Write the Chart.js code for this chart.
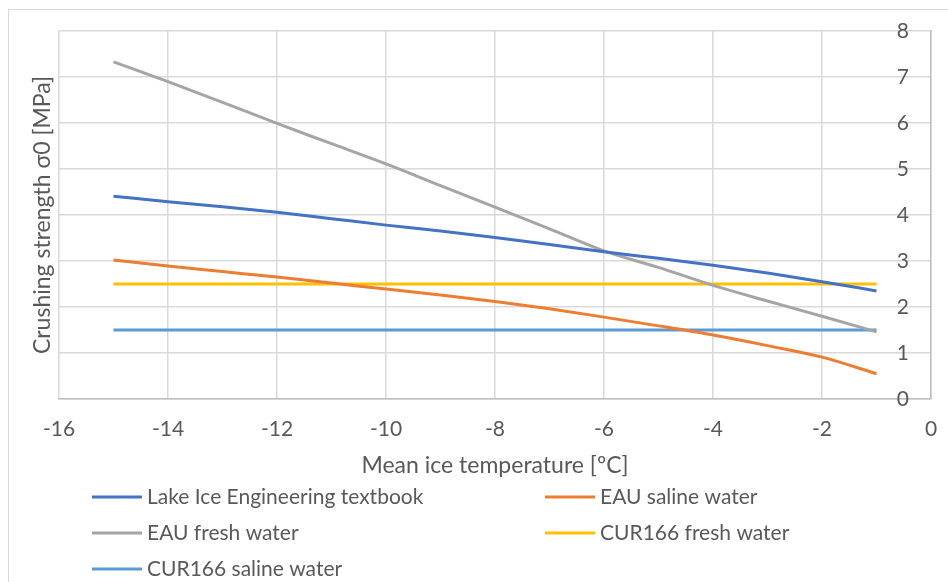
<!DOCTYPE html>
<html>
<head>
<meta charset="utf-8">
<script src="https://cdn.jsdelivr.net/npm/chart.js@4"></script>
<style>
  html, body { margin: 0; padding: 0; background: #fff; }
  #wrap { position: relative; width: 948px; height: 582px; overflow: hidden; }
  #frame { position: absolute; left: 8px; top: 9px; width: 980px; height: 620px; border: 1px solid #d9d9d9; }
  canvas { position: absolute; left: 0; top: 0; }
</style>
</head>
<body>
<div id="wrap">
  <div id="frame"></div>
  <canvas id="chart" width="948" height="582"></canvas>
</div>
<script>
// Mean ice temperature [ºC]
const temps = [-15, -14, -13, -12, -11, -10, -9, -8, -7, -6, -5, -4, -3, -2, -1];

// crushing strength [MPa]
const lakeIce   = [4.41, 4.29, 4.18, 4.06, 3.92, 3.78, 3.65, 3.51, 3.36, 3.20, 3.06, 2.91, 2.74, 2.55, 2.35];
const eauSaline = [3.02, 2.89, 2.77, 2.65, 2.52, 2.39, 2.26, 2.12, 1.96, 1.78, 1.59, 1.39, 1.16, 0.91, 0.55];
const eauFresh  = [7.33, 6.90, 6.45, 5.99, 5.55, 5.11, 4.64, 4.17, 3.70, 3.22, 2.86, 2.47, 2.13, 1.80, 1.46];
const curFresh  = [2.5, 2.5, 2.5, 2.5, 2.5, 2.5, 2.5, 2.5, 2.5, 2.5, 2.5, 2.5, 2.5, 2.5, 2.5];
const curSaline = [1.5, 1.5, 1.5, 1.5, 1.5, 1.5, 1.5, 1.5, 1.5, 1.5, 1.5, 1.5, 1.5, 1.5, 1.5];

const seriesNames  = ["Lake Ice Engineering textbook", "EAU saline water", "EAU fresh water", "CUR166 fresh water", "CUR166 saline water"];
const seriesValues = [lakeIce, eauSaline, eauFresh, curFresh, curSaline];
const seriesColors = ["#4472C4", "#ED7D31", "#A5A5A5", "#FFC000", "#5B9BD5"];

const xTitle = "Mean ice temperature [ºC]";
const yTitle = "Crushing strength σ0 [MPa]";

const textColor = "#595959";
const gridColor = "#d9d9d9";
const font = { family: "Lato", size: 21 };
const titleFont = { family: "Lato", size: 23 };

const datasets = seriesValues.map((vals, i) => ({
  label: seriesNames[i],
  data: vals.map((v, j) => ({ x: temps[j], y: v })),
  borderColor: seriesColors[i],
  backgroundColor: seriesColors[i],
  borderWidth: 3,
  pointRadius: 0,
  cubicInterpolationMode: "monotone",
  fill: false
}));

// two-column legend under the axis title, like the original
const legendBox = {
  id: "legendBox",
  afterDraw(chart) {
    const ctx = chart.ctx;
    const cols = [92, 545];
    const rows = [497, 533, 569];
    ctx.save();
    ctx.font = font.size + "px " + font.family;
    ctx.textBaseline = "middle";
    ctx.fillStyle = textColor;
    chart.data.datasets.forEach((ds, i) => {
      const x = cols[i % 2], y = rows[Math.floor(i / 2)];
      ctx.strokeStyle = ds.borderColor;
      ctx.lineWidth = 3;
      ctx.beginPath();
      ctx.moveTo(x, y);
      ctx.lineTo(x + 50, y);
      ctx.stroke();
      ctx.fillText(ds.label, x + 55, y);
    });
    ctx.restore();
  }
};

new Chart(document.getElementById("chart"), {
  type: "line",
  data: { datasets },
  plugins: [legendBox],
  options: {
    responsive: false,
    animation: false,
    layout: { padding: { left: 0, right: 0, top: 31, bottom: 103 } },
    plugins: { legend: { display: false }, tooltip: { enabled: false } },
    scales: {
      x: {
        type: "linear",
        min: -16, max: 0,
        ticks: { stepSize: 2, color: textColor, font, padding: 0 },
        grid: { color: gridColor, lineWidth: 1.5, drawTicks: true, tickLength: 18, tickColor: "rgba(0,0,0,0)" },
        border: { color: "#bfbfbf", width: 1.5 },
        title: { display: true, text: xTitle, color: textColor, font: titleFont, padding: { top: 0, bottom: 0 } },
        afterFit: s => { s.height = 80; }
      },
      y: {
        position: "right",
        min: 0, max: 8,
        ticks: { stepSize: 1, color: textColor, font, mirror: true, padding: -22 },
        grid: { color: gridColor, lineWidth: 1.5, drawTicks: false },
        border: { color: "#bfbfbf", width: 1.5 },
        afterFit: s => { s.width = 17; }
      },
      yl: {
        position: "left",
        min: 0, max: 8,
        ticks: { display: false },
        grid: { display: false },
        border: { display: false },
        title: { display: true, text: yTitle, color: textColor, font: titleFont, padding: { top: 29, bottom: 0 } },
        afterFit: s => { s.width = 59; }
      }
    }
  }
});
</script>
</body>
</html>
